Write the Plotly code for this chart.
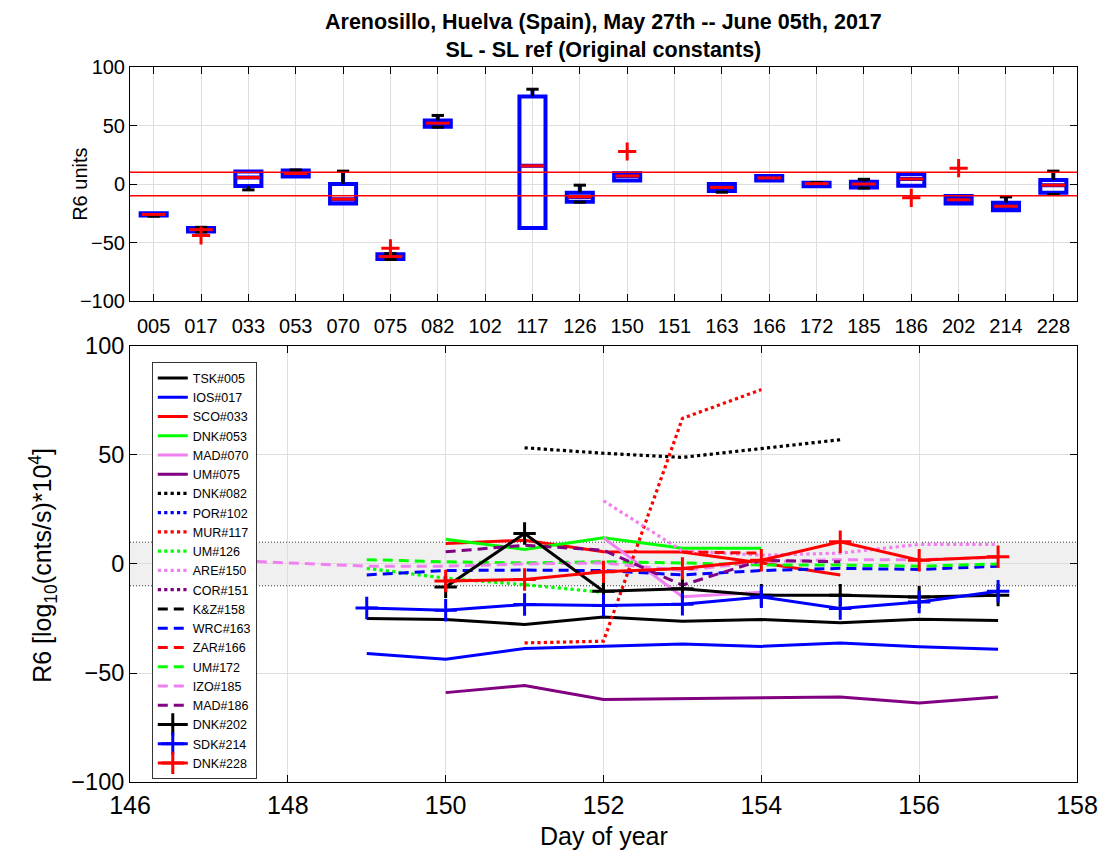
import plotly.graph_objects as go

# ---------------- data: top box plot ----------------
box_ids = ['005', '017', '033', '053', '070', '075', '082', '102', '117', '126',
           '150', '151', '163', '166', '172', '185', '186', '202', '214', '228']
box_q1 = [-27, -40.5, -1.7, 6.5, -16.7, -64, 49, None, -37.7, -15.2,
          2.9, None, -6, 2.9, -2, -3, -1.4, -16.7, -22.4, -7.5]
box_med = [-26, -39, 5.5, 9, -13, -62, 52, None, 15.5, -11,
           6.9, None, -2.9, 5.2, 0.3, 0, 4.3, -13.5, -19, -1]
box_q3 = [-25, -37.5, 10.6, 11.5, 0, -60, 54.3, None, 74.7, -7.5,
          9.2, None, 0, 6.9, 1, 2, 8.3, -10.3, -16, 3.5]
box_lo = [-27.5, -41, -5, 6.5, -16.7, -64.5, 48.6, None, -37.7, -15.5,
          2.9, None, -7, 2.9, -2, -3.5, -1.4, -16.7, -22.4, -9]
box_hi = [-25, -37, 10.6, 12, 11, -59.5, 58.6, None, 81, -1,
          9.2, None, 0, 6.9, 1.3, 4, 8.3, -10.3, -11, 11]
outlier_ids = ['017', '075', '150', '186', '202']
outlier_vals = [-44, -55, 27.8, -11.8, 13.5]

# ---------------- data: bottom time series ----------------
series = [
    # name, color, style, days, values
    ("TSK#005", "#000000", "solid", [149, 150, 151, 152, 153, 154, 155, 156, 157],
     [-25, -25.5, -27.7, -24.3, -26.3, -25.5, -27, -25.3, -25.9]),
    ("IOS#017", "#0000ff", "solid", [149, 150, 151, 152, 153, 154, 155, 156, 157],
     [-41.1, -43.7, -38.8, -37.8, -36.7, -37.8, -36.2, -38, -39.1]),
    ("SCO#033", "#ff0000", "solid", [150, 151, 152, 153, 154, 155],
     [9.4, 10.9, 5.6, 5.5, 0.5, -5]),
    ("DNK#053", "#00ff00", "solid", [150, 151, 152, 153, 154],
     [11.3, 6.7, 12, 7.2, 7.2]),
    ("MAD#070", "#f080f0", "solid", [152, 153, 154],
     [12, -15, -13]),
    ("UM#075", "#800080", "solid", [150, 151, 152, 153, 154, 155, 156, 157],
     [-59, -55.7, -62.2, -61.8, -61.5, -61, -63.8, -61]),
    ("DNK#082", "#000000", "dot", [151, 152, 153, 154, 155],
     [53.3, 50.8, 48.9, 53, 57]),
    ("POR#102", "#0000ff", "dot", [], []),
    ("MUR#117", "#ff0000", "dot", [151, 152, 153, 154],
     [-36.2, -35.4, 66.8, 80]),
    ("UM#126", "#00ff00", "dot", [149, 150, 151, 152],
     [-2, -6.5, -9.5, -13]),
    ("ARE#150", "#f080f0", "dot", [152, 153, 154, 155, 156, 157],
     [29, 6, 4, 5, 9, 9]),
    ("COR#151", "#800080", "dot", [], []),
    ("K&Z#158", "#000000", "dash", [], []),
    ("WRC#163", "#0000ff", "dash", [149, 150, 151, 152, 153, 154, 155, 156, 157],
     [-5, -3, -2.8, -3, -5, -3, -2, -2.5, -1]),
    ("ZAR#166", "#ff0000", "dash", [153, 154],
     [5.5, 5]),
    ("UM#172", "#00ff00", "dash", [149, 150, 151, 152, 153, 154, 155, 156, 157],
     [2, 1, 0.5, 1, 0.5, -0.5, -0.5, -1, 0]),
    ("IZO#185", "#f080f0", "dash", [147, 148, 149, 150, 151, 152, 153, 154, 155, 156, 157],
     [2, 0.5, -1, -1, 0, 0.5, -3, 1, 2, 2, 3]),
    ("MAD#186", "#800080", "dash", [150, 151, 152, 153, 154, 155],
     [5.6, 8.6, 6.3, -9.7, 1.7, 1]),
    ("DNK#202", "#000000", "plus", [150, 151, 152, 153, 154, 155, 156, 157],
     [-10.5, 14, -12.5, -11.3, -14.3, -14.3, -15.1, -14.3]),
    ("SDK#214", "#0000ff", "plus", [149, 150, 151, 152, 153, 154, 155, 156, 157],
     [-20.2, -21.2, -18.6, -19, -18.5, -15.1, -20.4, -17.4, -12.5]),
    ("DNK#228", "#ff0000", "plus", [150, 151, 152, 153, 154, 155, 156, 157],
     [-7.8, -7.1, -3.6, -2.1, 1.7, 10.2, 1.7, 3.3]),
]

FONT = "Liberation Sans, Arial, sans-serif"
fig = go.Figure()

# ---------- top: boxes ----------
pos = [i + 1 for i in range(len(box_ids))]
valid = [i for i in range(len(box_ids)) if box_med[i] is not None]
fig.add_trace(go.Box(
    x=[pos[i] for i in valid],
    q1=[box_q1[i] for i in valid], median=[box_med[i] for i in valid],
    q3=[box_q3[i] for i in valid], lowerfence=[box_lo[i] for i in valid],
    upperfence=[box_hi[i] for i in valid],
    width=0.55, whiskerwidth=0, fillcolor="rgba(0,0,0,0)",
    line=dict(color="#0000ff", width=4), xaxis="x", yaxis="y",
    showlegend=False, hoverinfo="skip"))

# black whiskers + caps
wx, wy = [], []
for i in valid:
    p = pos[i]
    if box_hi[i] > box_q3[i]:
        wx += [p, p, None, p - 0.13, p + 0.13, None]
        wy += [box_q3[i], box_hi[i], None, box_hi[i], box_hi[i], None]
    if box_lo[i] < box_q1[i]:
        wx += [p, p, None, p - 0.13, p + 0.13, None]
        wy += [box_q1[i], box_lo[i], None, box_lo[i], box_lo[i], None]
fig.add_trace(go.Scatter(x=wx, y=wy, mode="lines", line=dict(color="black", width=3),
                         xaxis="x", yaxis="y", showlegend=False, hoverinfo="skip"))
# red medians
mx, my = [], []
for i in valid:
    p = pos[i]
    mx += [p - 0.25, p + 0.25, None]
    my += [box_med[i], box_med[i], None]
fig.add_trace(go.Scatter(x=mx, y=my, mode="lines", line=dict(color="#ff0000", width=3),
                         xaxis="x", yaxis="y", showlegend=False, hoverinfo="skip"))
# outliers
fig.add_trace(go.Scatter(x=[pos[box_ids.index(o)] for o in outlier_ids], y=outlier_vals,
                         mode="markers",
                         marker=dict(symbol="cross-thin", size=13, line=dict(color="#ff0000", width=3)),
                         xaxis="x", yaxis="y", showlegend=False, hoverinfo="skip"))
# +/-10 reference lines
for v in (10, -10):
    fig.add_shape(type="line", xref="x domain", yref="y", x0=0, x1=1, y0=v, y1=v,
                  line=dict(color="#ff0000", width=1.5))

# ---------- bottom: band ----------
fig.add_shape(type="rect", xref="x2 domain", yref="y2", x0=0, x1=1, y0=-10, y1=10,
              fillcolor="#f0f0f0", line=dict(width=0), layer="below")
for v in (10, -10):
    fig.add_shape(type="line", xref="x2 domain", yref="y2", x0=0, x1=1, y0=v, y1=v,
                  line=dict(color="#333333", width=1, dash="1px,2px"), layer="below")

dash_map = {"solid": "solid", "dot": "dot", "dash": "10px,6px", "plus": "solid"}
for name, color, style, days, vals in series:
    if style == "plus":
        fig.add_trace(go.Scatter(
            x=days, y=vals, mode="lines+markers", name=name,
            line=dict(color=color, width=3),
            marker=dict(symbol="cross-thin", size=16, line=dict(color=color, width=3)),
            xaxis="x2", yaxis="y2"))
    else:
        fig.add_trace(go.Scatter(
            x=days if days else [None], y=vals if vals else [None], mode="lines", name=name,
            line=dict(color=color, width=3.2 if style == "dot" else 3, dash=dash_map[style]),
            xaxis="x2", yaxis="y2"))

axis_common = dict(showline=True, linecolor="black", linewidth=1, mirror="allticks",
                   ticks="inside", tickcolor="black", ticklen=7, showgrid=True,
                   gridcolor="#dedede", gridwidth=1, zeroline=False)

fig.update_layout(
    width=1110, height=855,
    margin=dict(l=130, r=23, t=67, b=73),
    paper_bgcolor="white", plot_bgcolor="white",
    font=dict(family=FONT, color="black"),
    xaxis=dict(domain=[0, 1], anchor="y", range=[0.5, 20.5], tickvals=pos, ticktext=box_ids,
               tickfont=dict(size=20), ticklabelstandoff=7, **axis_common),
    yaxis=dict(domain=[0.6727, 1], anchor="x", range=[-100, 100], dtick=50,
               tickvals=[-100, -50, 0, 50, 100], tickfont=dict(size=20), **axis_common),
    xaxis2=dict(domain=[0, 1], anchor="y2", range=[146, 158], dtick=2,
                tickfont=dict(size=25), ticklabelstandoff=1, **axis_common),
    yaxis2=dict(domain=[0, 0.6098], anchor="x2", range=[-100, 100], dtick=50,
                tickvals=[-100, -50, 0, 50, 100], tickfont=dict(size=23.5),
                **axis_common),
    legend=dict(x=0.023, y=0.587, xanchor="left", yanchor="top", bgcolor="white",
                bordercolor="#333333", borderwidth=1, font=dict(size=12.5, family=FONT),
                itemwidth=30, tracegroupgap=0),
    annotations=[
        dict(text="<b>Arenosillo, Huelva (Spain), May 27th -- June 05th, 2017</b><br><b>SL - SL ref (Original constants)</b>",
             xref="paper", yref="paper", x=0.5, y=1, xanchor="center", yanchor="bottom", yshift=3,
             showarrow=False, font=dict(size=21.5, family=FONT)),
        dict(text="R6 units", textangle=-90, xref="paper", yref="paper",
             x=-0.0522, y=0.836, xanchor="center", yanchor="middle",
             showarrow=False, font=dict(size=20, family=FONT)),
        dict(text="R6 [log<sub>10</sub>(cnts/s)*10<sup>4</sup>]", textangle=-90,
             xref="paper", yref="paper", x=-0.092, y=0.3035, xanchor="center", yanchor="middle",
             showarrow=False, font=dict(size=25, family=FONT)),
        dict(text="Day of year", xref="paper", yref="paper", x=0.5, y=-0.076,
             xanchor="center", yanchor="middle", showarrow=False, font=dict(size=25, family=FONT)),
    ],
)

fig.write_html("out.html")
